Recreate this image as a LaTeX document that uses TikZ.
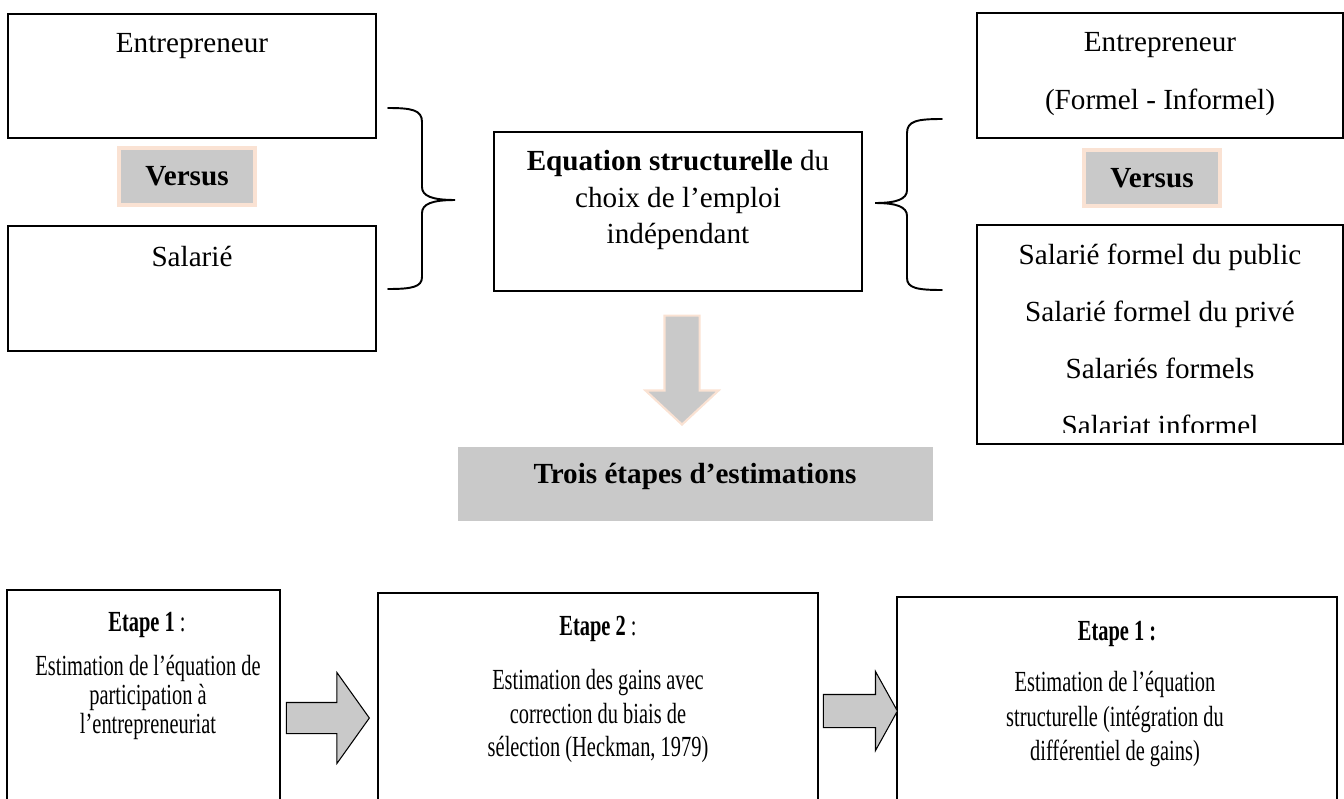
\documentclass[tikz,border=0pt]{standalone}
\usepackage{fontspec}
\setmainfont{Liberation Serif}
\newfontfamily\narrowfont{Liberation Serif}[FakeStretch=0.7]
\usetikzlibrary{positioning}
\usetikzlibrary{fit}
\usetikzlibrary{shapes.arrows}
\definecolor{fillgray}{RGB}{201,201,201}
\definecolor{peach}{RGB}{250,226,211}
\def\thickness{thick}
\def\u{0.02cm}
\tikzset{
boxframe/.style={draw, \thickness, inner sep=0pt, fit={#1}},
versus/.style={fill=fillgray, draw=peach, line width=2.3pt, inner sep=0pt,
	minimum width=136*\u, minimum height=#1*\u,
	font=\fontsize{16.6}{21}\selectfont\bfseries},
txt/.style={font=\fontsize{16.6}{#1}\selectfont, align=center, inner sep=0pt},
ntxt/.style={font=\narrowfont\fontsize{16.6}{#1}\selectfont, align=center, inner sep=0pt},
brace/.style={line width=1.1pt, line cap=round},
blockarrow/.style 2 args={single arrow, inner sep=#1*\u, single arrow head indent=0pt,
	single arrow head extend=#2*\u, fill=fillgray},
}
\begin{document}
\begin{tikzpicture}[x=\u, y=-\u]
\useasboundingbox (0,0) rectangle (1344,798);
\clip (0,0) rectangle (1344,798);

% left column
\node[boxframe={(8,14) (376,138)}] (entL) {};
\node[txt=21] (entLt) at (192,46) {Entrepreneur};
\node[versus=57] (vsL) at (187,176.5) {Versus};
\node[boxframe={(8,226) (376,351)}] (salL) {};
\node[txt=21] (salLt) at (192,256) {Salarié};

% centre
\node[boxframe={(494,132) (862,291)}] (eq) {};
\node[txt=21] (eqt) at (678,200) {\textbf{Equation structurelle} du\\choix de l’emploi\\indépendant};

% right column
\node[boxframe={(977,13) (1343,138)}] (entR) {};
\node[txt=33] (entRt) at (1160,74) {Entrepreneur\\(Formel - Informel)};
\node[versus=56] (vsR) at (1152,178) {Versus};
\node[boxframe={(977,225) (1343,444)}] (salR) {};
\begin{scope}
\clip (977,225) rectangle (1343,432);
\node[txt=32.4] (salRt) at (1160,340) {Salarié formel du public\\Salarié formel du privé\\Salariés formels\\Salariat informel};
\end{scope}

% braces
\coordinate (lbTop) at (388,108);
\coordinate (lbTip) at (455,200);
\coordinate (lbBot) at (388,289);
\draw[brace] (lbTop) .. controls (412,108) and (422,110) .. (422,122) -- (422,187)
	.. controls (422,196) and (432,200) .. (lbTip)
	.. controls (432,200) and (422,204) .. (422,213) -- (422,277)
	.. controls (422,287) and (412,289) .. (lbBot);
\coordinate (rbTop) at (942,119);
\coordinate (rbTip) at (875,203);
\coordinate (rbBot) at (942,290);
\draw[brace] (rbTop) .. controls (917,119) and (907,121) .. (907,133) -- (907,190)
	.. controls (907,199) and (897,203) .. (rbTip)
	.. controls (897,203) and (907,207) .. (907,216) -- (907,278)
	.. controls (907,288) and (917,290) .. (rbBot);

% down arrow and estimation stages
\node[blockarrow={16.5}{19}, draw=peach, line width=1.2pt, minimum height=109*\u,
	single arrow tip angle=94, shape border rotate=270, anchor=tip] (down) at (682,426) {};
\node[fill=fillgray, inner sep=0pt, fit={(458,447) (933,521)}] (steps) {};
\node[txt=21, font=\fontsize{16.6}{21}\selectfont\bfseries] (stepst) at (695,476) {Trois étapes d’estimations};

% bottom row
\node[boxframe={(7,590) (280,840)}] (e1) {};
\node[ntxt=21] (e1h) at (147,625) {\textbf{Etape 1} :};
\node[ntxt=16.5] (e1t) at (148,697) {Estimation de l’équation de\\participation à\\l’entrepreneuriat};
\node[boxframe={(378,593) (818,840)}] (e2) {};
\node[ntxt=21] (e2h) at (598,629) {\textbf{Etape 2} :};
\node[ntxt=19] (e2t) at (598,716) {Estimation des gains avec\\correction du biais de\\sélection (Heckman, 1979)};
\node[boxframe={(897,597) (1337,840)}] (e3) {};
\node[ntxt=21] (e3h) at (1117,634) {\textbf{Etape 1 :}};
\node[ntxt=19.5] (e3t) at (1115,719) {Estimation de l’équation\\structurelle (intégration du\\différentiel de gains)};

% arrows between stages
\node[blockarrow={15}{30}, draw, line width=0.6pt, minimum height=83*\u,
	single arrow tip angle=109, anchor=tip] (a1) at (370,718) {};
\node[blockarrow={16}{23}, draw, line width=0.6pt, minimum height=74*\u,
	single arrow tip angle=122, anchor=tip] (a2) at (898,711) {};
\end{tikzpicture}
\end{document}
